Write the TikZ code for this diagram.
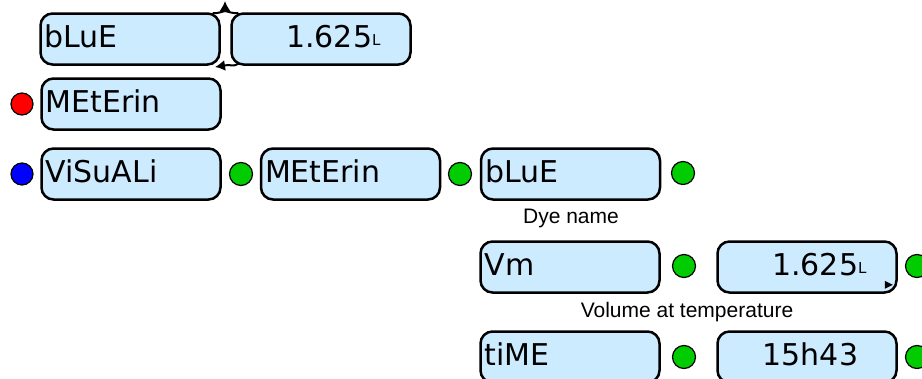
\documentclass[tikz,border=0pt]{standalone}
\usepackage{fontspec}
\newfontfamily\lcdfont{DejaVu Sans}
\newfontfamily\capfont{Liberation Sans}
\usetikzlibrary{arrows.meta}
\definecolor{lcdblue}{RGB}{204,235,255}
\definecolor{ledgreen}{RGB}{0,204,0}
\newcommand{\unitsmall}[1]{\raisebox{2pt}{\fontsize{15}{15}\selectfont #1}}
\tikzset{lcd/.style={draw, line width=2.5pt, rounded corners=12pt, fill=lcdblue, minimum width=179pt, minimum height=51pt, text width=171pt, inner xsep=4pt, text height=22pt, text depth=6pt, align=left, font={\lcdfont\fontsize{30}{31}\selectfont}}}
\tikzset{lcdval/.style={lcd, align=right}}
\tikzset{led/.style={circle, draw, line width=1.2pt, fill=#1, inner sep=0pt, minimum size=23pt}}
\tikzset{caption/.style={font={\capfont\fontsize{21}{22}\selectfont}}}
\tikzset{cycline/.style={line width=2pt}}
\tikzset{cycarrow/.style={line width=2pt, -{Latex[length=10pt,width=11pt]}}}

\begin{document}
\begin{tikzpicture}[x=1pt, y=-1pt]
\useasboundingbox (0,0) rectangle (922,378);
\clip (0,0) rectangle (922,378);

% dye and volume shown together
\node[lcd] (blue1) at (130,39) {bLuE};
\node[lcdval] (val1) at (321,39) {1.625\unitsmall{L}\hspace*{26pt}\mbox{}};
\coordinate (topbase) at (225,11);
\coordinate (cyctop) at (225,1);
\coordinate (botbase) at (228,65);
\coordinate (cycbot) at (215,67);
\draw[cycline] ([xshift=-8pt,yshift=-1pt]blue1.north east) .. controls +(6,0) and +(-4,1) .. (topbase);
\draw[cycline] ([xshift=8pt,yshift=-1pt]val1.north west) .. controls +(-6,0) and +(4,1) .. (topbase);
\draw[cycarrow] (topbase) -- (cyctop);
\draw[cycline] ([xshift=8pt,yshift=2pt]val1.south west) .. controls +(-4,2) .. (botbase);
\draw[cycarrow] (botbase) -- (cycbot);

% menu entries
\node[lcd] (met1) at (131,104) {MEtErin};
\node[led=red, minimum size=22pt] (ledr) at (22,104) {};

\node[lcd] (vis) at (131,174) {ViSuALi};
\node[led=blue, minimum size=22pt] (ledb) at (22,174) {};
\node[led=ledgreen] (led1) at (241,174) {};
\node[lcd] (met2) at (350.5,174) {MEtErin};
\node[led=ledgreen] (led2) at (460,174) {};
\node[lcd] (blue2) at (570.5,174) {bLuE};
\node[led=ledgreen] (led3) at (683,173) {};
\node[caption] (dyename) at (571,218) {Dye name};

% volume
\node[lcd] (vm) at (570,267) {Vm};
\node[led=ledgreen] (led4) at (684,266) {};
\node[lcdval] (val2) at (807,267) {1.625\unitsmall{L}\hspace*{26pt}\mbox{}};
\fill ([shift={(-13,-13)}]val2.south east) -- ++(8,4) -- ++(-8,4) -- cycle;
\node[led=ledgreen] (led5) at (917,266) {};
\node[caption] (voltemp) at (687,312) {Volume at temperature};

% time
\node[lcd] (tm) at (570,357) {tiME};
\node[led=ledgreen] (led6) at (684,357) {};
\node[lcdval] (val3) at (807,357) {15h43\unitsmall{\phantom{L}}\hspace*{26pt}\mbox{}};
\node[led=ledgreen] (led7) at (917,357) {};
\end{tikzpicture}
\end{document}
